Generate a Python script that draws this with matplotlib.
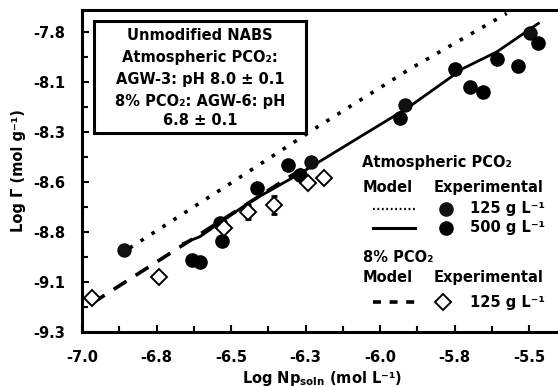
import matplotlib
matplotlib.use("Agg")
import matplotlib.pyplot as plt
from matplotlib.lines import Line2D
from matplotlib.patches import Rectangle
import numpy as np

plt.rcParams['font.family'] = ['DejaVu Sans']
plt.rcParams['font.weight'] = 'bold'
plt.rcParams['mathtext.default'] = 'bf'

# ---- data ----
exp125_x = [-6.858, -6.232, -5.916, -5.497]
exp125_y = [-8.890, -8.449, -8.165, -7.807]

exp500_x = [-6.632, -6.604, -6.529, -6.537, -6.412, -6.308, -6.268,
            -5.933, -5.747, -5.698, -5.653, -5.608, -5.536, -5.469]
exp500_y = [-8.940, -8.948, -8.843, -8.757, -8.582, -8.465, -8.515,
            -8.232, -7.984, -8.077, -8.098, -7.937, -7.970, -7.857]

exp8pct_x = [-6.967, -6.741, -6.522, -6.442, -6.356, -6.241, -6.188]
exp8pct_y = [-9.132, -9.027, -8.782, -8.699, -8.665, -8.557, -8.529]
exp8pct_err = [0, 0, 0, 0.035, 0.045, 0, 0]

model125_x = [-6.840, -6.500, -6.200, -5.900, -5.575]
model125_y = [-8.880, -8.555, -8.265, -7.985, -7.707]

model500_x = [-6.660, -6.604, -6.436, -6.268, -6.067, -5.910, -5.721, -5.608, -5.469]
model500_y = [-8.857, -8.823, -8.649, -8.507, -8.324, -8.182, -7.982, -7.899, -7.757]

model8pct_x = [-6.967, -6.250]
model8pct_y = [-9.157, -8.473]

xticks = [-7.0, -6.75, -6.5, -6.25, -6.0, -5.75, -5.5]
xticklabels = ['-7.0', '-6.8', '-6.5', '-6.3', '-6.0', '-5.8', '-5.5']
yticks = [-9.3, -9.05, -8.8, -8.55, -8.3, -8.05, -7.8]
yticklabels = ['-9.3', '-9.1', '-8.8', '-8.6', '-8.3', '-8.1', '-7.8']

W, H = 558, 386
fig = plt.figure(figsize=(W / 100, H / 100), dpi=100)
ax = fig.add_axes([82 / W, 54 / H, 476 / W, 322 / H])

ax.set_xlim(-7.0, -5.403)
ax.set_ylim(-9.3, -7.69)

# model lines
ax.plot(model125_x, model125_y, color='black', lw=2.6, linestyle=(0, (1.0, 2.6)),
        dash_capstyle='butt', zorder=2)
ax.plot(model8pct_x, model8pct_y, color='black', lw=2.6, linestyle=(0, (4.2, 3.0)),
        zorder=2)
ax.plot(model500_x, model500_y, color='black', lw=2.0, zorder=3)

# experimental points
ax.plot(exp125_x, exp125_y, 'o', color='#111111', ms=9.5, mec='black', mew=0.8, zorder=4)
ax.plot(exp500_x, exp500_y, 'o', color='black', ms=9.5, zorder=4)
ax.errorbar(exp8pct_x, exp8pct_y, yerr=exp8pct_err, fmt='none', ecolor='black',
            elinewidth=1.5, capsize=2.5, capthick=2, zorder=4)
ax.plot(exp8pct_x, exp8pct_y, 'D', mfc='white', mec='black', mew=1.4, ms=7.8, zorder=5)

# axes styling
ax.set_xticks(xticks)
ax.set_xticklabels(xticklabels)
ax.set_yticks(yticks)
ax.set_yticklabels(yticklabels)
ax.set_xticks(np.arange(-6.875, -5.40, 0.25), minor=True)
ax.set_yticks(np.arange(-9.175, -7.70, 0.25), minor=True)
ax.tick_params(which='both', direction='in', width=1.5, labelsize=10.5)
ax.tick_params(which='major', length=5)
ax.tick_params(which='minor', length=4)
ax.tick_params(axis='y', pad=12)
ax.tick_params(axis='x', pad=13)
for lab in ax.get_xticklabels() + ax.get_yticklabels():
    lab.set_fontweight('bold')
for s in ['left', 'bottom', 'top']:
    ax.spines[s].set_linewidth(2.2)
ax.spines['right'].set_visible(False)

fig.text(19 / W, 1 - 171 / H, 'Log Γ (mol g⁻¹)', rotation=90, ha='center', va='center',
         fontsize=10.5, fontweight='bold')
fig.text(322 / W, 1 - 378 / H, 'Log Np$_{soln}$ (mol L⁻¹)', ha='center', va='center',
         fontsize=10.5, fontweight='bold')

# inset annotation box
ax.add_patch(Rectangle((0.025, 0.618), 0.446, 0.348, transform=ax.transAxes,
                       fill=False, lw=2.2, ec='black', zorder=6))
box_lines = ['Unmodified NABS', 'Atmospheric PCO₂:', 'AGW-3: pH 8.0 ± 0.1',
             '8% PCO₂: AGW-6: pH', '6.8 ± 0.1']
box_y = [0.922, 0.854, 0.783, 0.717, 0.658]
for t, yy in zip(box_lines, box_y):
    ax.text(0.248, yy, t, transform=ax.transAxes, ha='center', va='center',
            fontsize=10.5, fontweight='bold')

# custom legend
fs = 10.5
ax.text(0.588, 0.525, 'Atmospheric PCO₂', transform=ax.transAxes, ha='left', va='center',
        fontsize=fs, fontweight='bold')
ax.text(0.590, 0.450, 'Model', transform=ax.transAxes, ha='left', va='center', fontsize=fs,
        fontweight='bold')
ax.text(0.739, 0.450, 'Experimental', transform=ax.transAxes, ha='left', va='center',
        fontsize=fs, fontweight='bold')
ax.add_line(Line2D([0.611, 0.700], [0.382, 0.382], transform=ax.transAxes, color='black',
                   lw=1.6, linestyle=(0, (0.8, 1.2))))
ax.add_line(Line2D([0.765], [0.382], transform=ax.transAxes, marker='o', color='#111111',
                   ms=9.5, linestyle='none'))
ax.text(0.815, 0.382, '125 g L⁻¹', transform=ax.transAxes, ha='left', va='center',
        fontsize=fs, fontweight='bold')
ax.add_line(Line2D([0.611, 0.700], [0.323, 0.323], transform=ax.transAxes, color='black',
                   lw=2.2))
ax.add_line(Line2D([0.765], [0.323], transform=ax.transAxes, marker='o', color='black',
                   ms=9.5, linestyle='none'))
ax.text(0.815, 0.323, '500 g L⁻¹', transform=ax.transAxes, ha='left', va='center',
        fontsize=fs, fontweight='bold')
ax.text(0.590, 0.230, '8% PCO₂', transform=ax.transAxes, ha='left', va='center',
        fontsize=fs, fontweight='bold')
ax.text(0.590, 0.168, 'Model', transform=ax.transAxes, ha='left', va='center', fontsize=fs,
        fontweight='bold')
ax.text(0.739, 0.168, 'Experimental', transform=ax.transAxes, ha='left', va='center',
        fontsize=fs, fontweight='bold')
ax.add_line(Line2D([0.611, 0.700], [0.093, 0.093], transform=ax.transAxes, color='black',
                   lw=2.6, linestyle=(0, (2.2, 2.4))))
ax.add_line(Line2D([0.758], [0.093], transform=ax.transAxes, marker='D', mfc='white',
                   mec='black', mew=1.4, ms=7.8, linestyle='none'))
ax.text(0.815, 0.093, '125 g L⁻¹', transform=ax.transAxes, ha='left', va='center',
        fontsize=fs, fontweight='bold')

fig.savefig('out.png', dpi=100)
